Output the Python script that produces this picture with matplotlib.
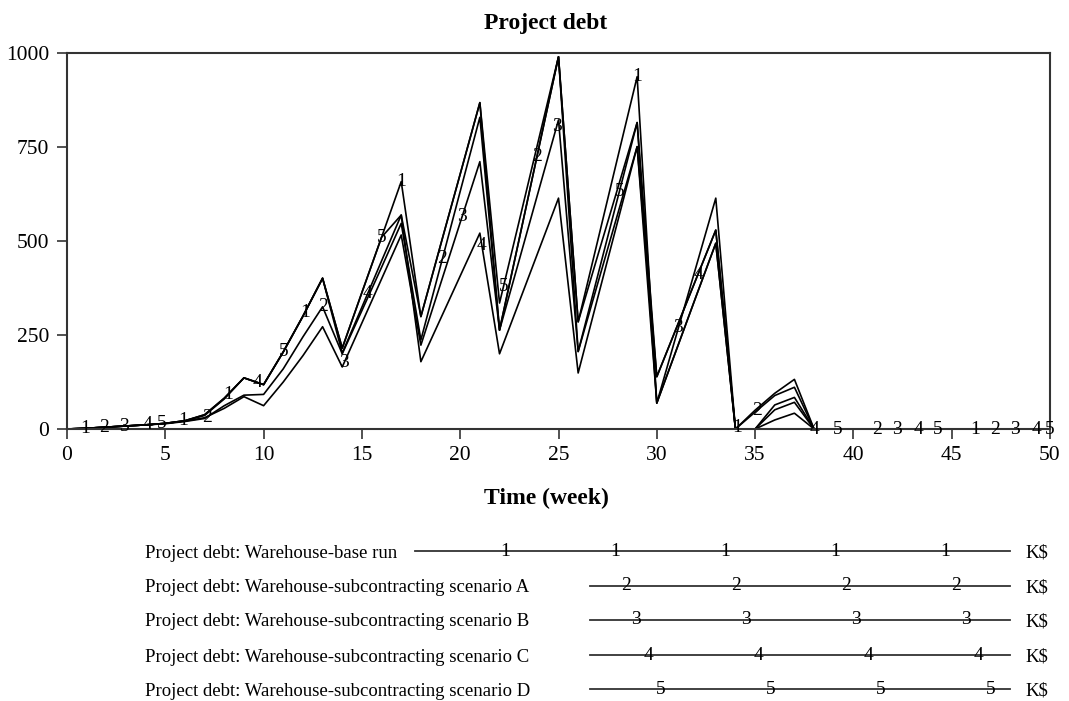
import numpy as np
import matplotlib.pyplot as plt

plt.rcParams['font.family'] = ['Liberation Serif', 'DejaVu Serif']

weeks = np.arange(0, 51)

# Project debt, K$
base_run = [0, 2, 5, 8, 11, 15, 22, 38, 82, 136, 118, 205, 300, 401, 215, 363, 510, 658,
            299, 489, 678, 868, 263, 505, 748, 990, 285, 502, 720, 937, 69, 211, 353, 494,
            0, 50, 95, 132, 0] + [0] * 12
scenario_a = [0, 2, 5, 8, 11, 14, 20, 28, 62, 90, 92, 160, 245, 325, 200, 315, 430, 547,
              237, 434, 632, 829, 263, 505, 748, 990, 285, 462, 638, 815, 69, 211, 353, 494,
              0, 45, 89, 111, 0] + [0] * 12
scenario_b = [0, 2, 5, 8, 11, 15, 21, 30, 55, 86, 62, 125, 195, 272, 165, 282, 399, 516,
              223, 386, 549, 711, 263, 449, 636, 822, 206, 388, 570, 751, 69, 251, 432, 614,
              0, 0, 64, 84, 0] + [0] * 12
scenario_c = [0, 2, 5, 8, 11, 15, 22, 36, 80, 136, 118, 205, 300, 401, 202, 324, 447, 569,
              179, 293, 407, 521, 200, 338, 476, 614, 149, 350, 550, 751, 139, 269, 399, 529,
              0, 0, 51, 71, 0] + [0] * 12
scenario_d = [0, 2, 5, 8, 11, 15, 22, 38, 82, 136, 118, 205, 300, 401, 215, 363, 510, 569,
              299, 489, 678, 868, 335, 553, 772, 990, 206, 409, 612, 815, 139, 269, 399, 529,
              0, 0, 24, 42, 0] + [0] * 12

series = [base_run, scenario_a, scenario_b, scenario_c, scenario_d]
labels = ['Project debt: Warehouse-base run',
          'Project debt: Warehouse-subcontracting scenario A',
          'Project debt: Warehouse-subcontracting scenario B',
          'Project debt: Warehouse-subcontracting scenario C',
          'Project debt: Warehouse-subcontracting scenario D']

# where the series numbers sit along the lines (series index, week)
marker_pos = [(1, 0.9), (2, 1.9), (3, 2.9), (4, 4.1), (5, 4.8), (1, 5.9), (2, 7.1),
              (1, 8.2), (4, 9.7), (5, 11.0), (1, 12.1), (2, 13.0), (3, 14.1), (4, 15.3),
              (5, 16.0), (1, 17.0), (2, 19.1), (3, 20.1), (4, 21.1), (5, 22.2), (2, 23.9),
              (3, 24.9), (5, 28.1), (1, 29.0), (3, 31.1), (4, 32.1), (1, 34.1), (2, 35.1),
              (4, 38.0), (5, 39.2), (2, 41.2), (3, 42.2), (4, 43.3), (5, 44.3), (1, 46.2),
              (2, 47.2), (3, 48.2), (4, 49.3), (5, 50.0)]

fig = plt.figure(figsize=(10.69, 7.01), dpi=100)
ax = fig.add_axes([67 / 1069, 1 - 429 / 701, 983 / 1069, 376 / 701])

for s in series:
    ax.plot(weeks, s, color='black', lw=1.2)

for idx, wk in marker_pos:
    yv = np.interp(wk, weeks, series[idx - 1])
    ax.text(wk, yv, str(idx), ha='center', va='center', fontsize=14)

ax.set_xlim(0, 50)
ax.set_ylim(0, 1000)
ax.set_xticks(range(0, 51, 5))
ax.set_yticks([0, 250, 500, 750, 1000])
ax.tick_params(labelsize=15.5, direction='out', length=7, width=1.2, color='#333333')
ax.tick_params(axis='x', pad=5)
ax.tick_params(axis='y', pad=6)
for sp in ax.spines.values():
    sp.set_color('#333333')
    sp.set_linewidth(1.5)

fig.text(546 / 1069, 1 - 24 / 701, 'Project debt', fontsize=17, fontweight='bold',
         ha='center', va='center')
fig.text(546 / 1069, 1 - 498 / 701, 'Time (week)', fontsize=17, fontweight='bold',
         ha='center', va='center')

# legend below the plot, Vensim style
row_y = [551, 586, 620, 655, 689]
line_start = [415, 590, 590, 590, 590]
first_mark = [505, 626, 636, 648, 661]
for i, lab in enumerate(labels):
    fy = 1 - row_y[i] / 701
    fig.text(145 / 1069, fy, lab, fontsize=13.5, va='center_baseline', ha='left')
    fig.add_artist(plt.Line2D([line_start[i] / 1069, 1010 / 1069], [fy, fy],
                              color='#333333', lw=1.3))
    n_marks = 5 if i == 0 else 4
    for k in range(n_marks):
        fig.text((first_mark[i] + 110 * k) / 1069, fy, str(i + 1), fontsize=14,
                 ha='center', va='center')
    fig.text(1025 / 1069, fy, 'K$', fontsize=13.5, va='center_baseline', ha='left')

fig.savefig('out.png', dpi=100)
